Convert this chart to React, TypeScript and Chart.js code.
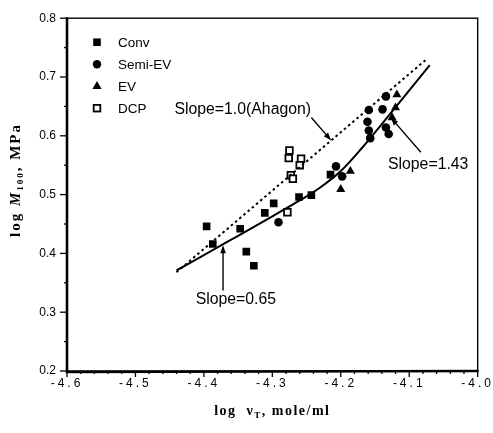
import React, { useEffect, useRef } from 'react';
import { Chart, registerables } from 'chart.js';

Chart.register(...registerables);

// ---------- data ----------
const seriesNames = ['Conv', 'Semi-EV', 'EV', 'DCP'];

const convX = [-4.396, -4.387, -4.347, -4.338, -4.327, -4.311, -4.298, -4.261, -4.243, -4.215];
const convY = [0.446, 0.416, 0.442, 0.403, 0.379, 0.469, 0.485, 0.496, 0.499, 0.534];

const semiX = [-4.291, -4.207, -4.198, -4.159, -4.161, -4.159, -4.157, -4.139, -4.134, -4.130, -4.134];
const semiY = [0.453, 0.548, 0.531, 0.644, 0.624, 0.609, 0.596, 0.645, 0.614, 0.603, 0.667];

const evX = [-4.200, -4.186, -4.125, -4.120, -4.118];
const evY = [0.509, 0.540, 0.631, 0.648, 0.670];

const dcpX = [-4.278, -4.275, -4.276, -4.258, -4.260, -4.273, -4.270];
const dcpY = [0.470, 0.575, 0.562, 0.561, 0.550, 0.533, 0.527];

// fitted curve (slope 0.65 -> 1.43)
const fitX = [-4.44, -4.40, -4.35, -4.30, -4.26, -4.23, -4.20, -4.17, -4.14, -4.11, -4.07];
const fitY = [0.371, 0.397, 0.430, 0.463, 0.490, 0.512, 0.540, 0.578, 0.620, 0.663, 0.720];

// Ahagon line, slope 1.0
const ahagonX = [-4.44, -4.076];
const ahagonY = [0.368, 0.729];

const xMin = -4.6, xMax = -4.0, xStep = 0.1, xMinorStep = 0.02;
const yMin = 0.2, yMax = 0.8, yStep = 0.1, yMinorStep = 0.05;

const xTitle = ['log  ν', 'T', ', mole/ml'];
const yTitle = ['log ', 'M', '100', ', MPa'];

// annotation texts and arrows (data coordinates)
const noteTexts = ['Slope=1.0(Ahagon)', 'Slope=1.43', 'Slope=0.65'];
const noteTextX = [-4.443, -4.131, -4.412];
const noteTextY = [0.644, 0.551, 0.322];
const arrowFromX = [-4.243, -4.083, -4.372];
const arrowFromY = [0.631, 0.572, 0.337];
const arrowToX = [-4.214, -4.127, -4.372];
const arrowToY = [0.592, 0.631, 0.414];

const SANS = '"Liberation Sans", Arial, Helvetica, sans-serif';
const SERIF = '"Liberation Serif", "Times New Roman", serif';

const zip = (xs: number[], ys: number[]) => xs.map((x, i) => ({ x, y: ys[i] }));

function drawMarker(ctx: CanvasRenderingContext2D, kind: number, x: number, y: number) {
  ctx.save();
  ctx.fillStyle = '#000';
  ctx.strokeStyle = '#000';
  if (kind === 0) {
    ctx.fillRect(x - 3.8, y - 3.8, 7.6, 7.6);
  } else if (kind === 1) {
    ctx.beginPath();
    ctx.arc(x, y, 4.2, 0, Math.PI * 2);
    ctx.fill();
  } else if (kind === 2) {
    ctx.beginPath();
    ctx.moveTo(x, y - 5.2);
    ctx.lineTo(x + 4.6, y + 2.8);
    ctx.lineTo(x - 4.6, y + 2.8);
    ctx.closePath();
    ctx.fill();
  } else {
    ctx.lineWidth = 1.8;
    ctx.fillStyle = '#fff';
    ctx.fillRect(x - 3.3, y - 3.3, 6.6, 6.6);
    ctx.strokeRect(x - 3.3, y - 3.3, 6.6, 6.6);
  }
  ctx.restore();
}

function drawArrow(ctx: CanvasRenderingContext2D, x1: number, y1: number, x2: number, y2: number) {
  const a = Math.atan2(y2 - y1, x2 - x1);
  const L = 8, W = 2.8;
  ctx.beginPath();
  ctx.moveTo(x1, y1);
  ctx.lineTo(x2 - Math.cos(a) * L * 0.8, y2 - Math.sin(a) * L * 0.8);
  ctx.lineWidth = 1.4;
  ctx.stroke();
  ctx.beginPath();
  ctx.moveTo(x2, y2);
  ctx.lineTo(x2 - Math.cos(a) * L + Math.sin(a) * W, y2 - Math.sin(a) * L - Math.cos(a) * W);
  ctx.lineTo(x2 - Math.cos(a) * L - Math.sin(a) * W, y2 - Math.sin(a) * L + Math.cos(a) * W);
  ctx.closePath();
  ctx.fill();
}

type Piece = { text: string; font: string; dy: number };

function drawPieces(ctx: CanvasRenderingContext2D, pieces: Piece[], cx: number, cy: number, spacing: string) {
  (ctx as any).letterSpacing = spacing;
  const widths = pieces.map((p) => {
    ctx.font = p.font;
    return ctx.measureText(p.text).width;
  });
  const total = widths.reduce((a, b) => a + b, 0);
  let x = cx - total / 2;
  ctx.textAlign = 'left';
  ctx.textBaseline = 'alphabetic';
  pieces.forEach((p, i) => {
    ctx.font = p.font;
    ctx.fillText(p.text, x, cy + p.dy);
    x += widths[i];
  });
  (ctx as any).letterSpacing = '0px';
}

const decorPlugin = {
  id: 'decor',
  afterDatasetsDraw(chart: any) {
    // x tick labels (drawn afterwards on layer z=1) get spaced characters
    (chart.ctx as any).letterSpacing = '3px';
  },
  afterDraw(chart: any) {
    const ctx: CanvasRenderingContext2D = chart.ctx;
    (ctx as any).letterSpacing = '0px';
    const xs = chart.scales.x;
    const ys = chart.scales.y;
    const { left, right, top, bottom } = chart.chartArea;
    ctx.save();
    ctx.strokeStyle = '#000';
    ctx.fillStyle = '#000';

    // frame
    ctx.lineWidth = 1.4;
    ctx.strokeRect(left, top, right - left, bottom - top);
    ctx.lineWidth = 2.6;
    ctx.beginPath();
    ctx.moveTo(left, top - 1);
    ctx.lineTo(left, bottom + 1);
    ctx.lineTo(right + 1, bottom);
    ctx.stroke();

    // x ticks
    ctx.lineWidth = 1.3;
    const nx = Math.round((xMax - xMin) / xMinorStep);
    for (let i = 0; i <= nx; i++) {
      const v = xMin + i * xMinorStep;
      const px = xs.getPixelForValue(v);
      const major = i % Math.round(xStep / xMinorStep) === 0;
      ctx.beginPath();
      ctx.moveTo(px, bottom);
      ctx.lineTo(px, bottom + (major ? 6 : 3));
      ctx.stroke();
    }
    // y ticks
    const ny = Math.round((yMax - yMin) / yMinorStep);
    for (let i = 0; i <= ny; i++) {
      const v = yMin + i * yMinorStep;
      const py = ys.getPixelForValue(v);
      const major = i % Math.round(yStep / yMinorStep) === 0;
      ctx.beginPath();
      ctx.moveTo(left, py);
      ctx.lineTo(left - (major ? 7 : 3), py);
      ctx.stroke();
    }

    // legend
    ctx.font = `13.5px ${SANS}`;
    ctx.textAlign = 'left';
    ctx.textBaseline = 'middle';
    seriesNames.forEach((name, i) => {
      const y = top + 24 + i * 22;
      drawMarker(ctx, i, left + 30, y);
      ctx.fillStyle = '#000';
      ctx.fillText(name, left + 51, y + 1);
    });

    // annotations
    ctx.font = `15.8px ${SANS}`;
    ctx.textAlign = 'left';
    ctx.textBaseline = 'middle';
    noteTexts.forEach((t, i) => {
      ctx.fillText(t, xs.getPixelForValue(noteTextX[i]), ys.getPixelForValue(noteTextY[i]));
      drawArrow(
        ctx,
        xs.getPixelForValue(arrowFromX[i]),
        ys.getPixelForValue(arrowFromY[i]),
        xs.getPixelForValue(arrowToX[i]),
        ys.getPixelForValue(arrowToY[i])
      );
    });

    // x title
    drawPieces(
      ctx,
      [
        { text: xTitle[0], font: `bold 14px ${SERIF}`, dy: 0 },
        { text: xTitle[1], font: `bold 9px ${SERIF}`, dy: 3 },
        { text: xTitle[2], font: `bold 14px ${SERIF}`, dy: 0 },
      ],
      (left + right) / 2,
      415,
      '1.5px'
    );

    // y title (rotated)
    ctx.save();
    ctx.translate(20, 180);
    ctx.rotate(-Math.PI / 2);
    drawPieces(
      ctx,
      [
        { text: yTitle[0], font: `bold 15px ${SERIF}`, dy: 0 },
        { text: yTitle[1], font: `italic bold 15px ${SERIF}`, dy: 0 },
        { text: yTitle[2], font: `bold 9px ${SERIF}`, dy: 3 },
        { text: yTitle[3], font: `bold 15px ${SERIF}`, dy: 0 },
      ],
      0,
      0,
      '2px'
    );
    ctx.restore();

    ctx.restore();
  },
};

export default function App() {
  const ref = useRef<HTMLCanvasElement>(null);

  useEffect(() => {
    if (!ref.current) return;
    const chart = new Chart(ref.current, {
      type: 'scatter',
      data: {
        datasets: [
          {
            label: 'fit',
            data: zip(fitX, fitY),
            showLine: true,
            borderColor: '#000',
            borderWidth: 2,
            pointRadius: 0,
            cubicInterpolationMode: 'monotone',
          } as any,
          {
            label: 'Ahagon',
            data: zip(ahagonX, ahagonY),
            showLine: true,
            borderColor: '#000',
            borderWidth: 2,
            borderDash: [2.5, 3],
            pointRadius: 0,
          },
          {
            label: seriesNames[0],
            data: zip(convX, convY),
            pointStyle: 'rect',
            pointRadius: 5.4,
            backgroundColor: '#000',
            borderColor: '#000',
            borderWidth: 0,
          },
          {
            label: seriesNames[1],
            data: zip(semiX, semiY),
            pointStyle: 'circle',
            pointRadius: 4.3,
            backgroundColor: '#000',
            borderColor: '#000',
            borderWidth: 0,
          },
          {
            label: seriesNames[2],
            data: zip(evX, evY),
            pointStyle: 'triangle',
            pointRadius: 5.2,
            backgroundColor: '#000',
            borderColor: '#000',
            borderWidth: 0,
          },
          {
            label: seriesNames[3],
            data: zip(dcpX, dcpY),
            pointStyle: 'rect',
            pointRadius: 4.7,
            backgroundColor: '#fff',
            borderColor: '#000',
            borderWidth: 1.8,
          },
        ],
      },
      options: {
        animation: false,
        responsive: false,
        devicePixelRatio: 1,
        layout: { padding: { top: 10, right: 14, left: 0, bottom: 0 } },
        plugins: {
          legend: { display: false },
          tooltip: { enabled: false },
          title: { display: false },
        },
        scales: {
          x: {
            type: 'linear',
            min: xMin,
            max: xMax,
            afterFit: (s: any) => {
              s.height = 62;
            },
            grid: { display: false, drawTicks: false },
            border: { display: false },
            ticks: {
              stepSize: xStep,
              autoSkip: false,
              maxRotation: 0,
              padding: 5,
              color: '#000',
              font: { family: SANS, size: 12 },
              callback: (v: any) => Number(v).toFixed(1),
              z: 1,
            } as any,
          },
          y: {
            type: 'linear',
            min: yMin,
            max: yMax,
            afterFit: (s: any) => {
              s.width = 67;
            },
            grid: { display: false, drawTicks: false },
            border: { display: false },
            ticks: {
              stepSize: yStep,
              autoSkip: false,
              padding: 11,
              color: '#000',
              font: { family: SANS, size: 12 },
              callback: (v: any) => Number(v).toFixed(1),
            },
          },
        },
      },
      plugins: [decorPlugin],
    });
    return () => chart.destroy();
  }, []);

  return (
    <div style={{ position: 'absolute', left: 0, top: 0, width: 493, height: 433, background: '#fff' }}>
      <canvas ref={ref} width={493} height={433} style={{ display: 'block', width: 493, height: 433 }} />
    </div>
  );
}
